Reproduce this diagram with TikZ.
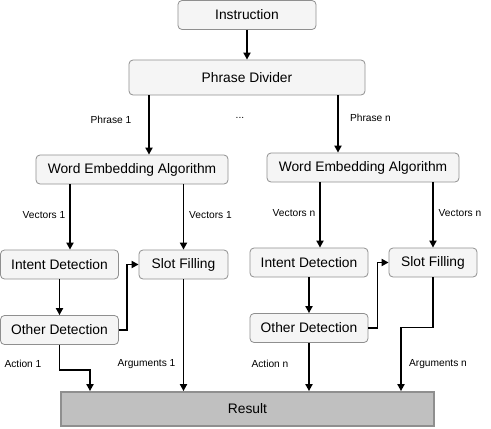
\documentclass[tikz,border=0pt]{standalone}
\usepackage{fontspec}
\setmainfont{Liberation Sans}
\usetikzlibrary{arrows.meta}
\definecolor{boxfill}{HTML}{F5F5F5}
\definecolor{boxline}{HTML}{8F8F8F}
\definecolor{resfill}{HTML}{C0C0C0}

\begin{document}
\begin{tikzpicture}[x=10pt, y=-10pt,
		block/.style={draw=boxline, fill=boxfill, rounded corners=4pt, line width=0.8pt,
			minimum height=29pt, inner sep=0pt, font=\fontsize{13.8}{16}\selectfont},
		lbl/.style={font=\fontsize{10.2}{12}\selectfont, inner sep=0pt},
		arr/.style={-{Triangle[length=7pt,width=7pt]}, line width=1.8pt}]
			\useasboundingbox (0, 0) rectangle (49.1, 42.9);
			% boxes
			\node[block, minimum width=138pt] (instr) at (24.7, 1.5) {Instruction};
			\node[block, minimum width=236pt, minimum height=35pt] (div) at (24.7, 7.75) {Phrase Divider};
			\node[block, minimum width=192pt] (wl) at (13.2, 16.95) {Word Embedding Algorithm};
			\node[block, minimum width=192pt] (wr) at (36.3, 16.75) {Word Embedding Algorithm};
			\node[block, minimum width=118pt] (il) at (5.95, 26.45) {Intent Detection};
			\node[block, minimum width=89pt] (sl) at (18.35, 26.45) {Slot Filling};
			\node[block, minimum width=118pt] (ir) at (30.9, 26.25) {Intent Detection};
			\node[block, minimum width=88pt] (sr) at (43.3, 26.25) {Slot Filling};
			\node[block, minimum width=118pt] (ol) at (5.95, 33.0) {Other Detection};
			\node[block, minimum width=118pt] (or) at (30.9, 32.8) {Other Detection};
			\node[block, draw=boxline, fill=resfill, rounded corners=0pt, line width=1.8pt,
				minimum width=373pt, minimum height=34pt] (res) at (24.75, 40.9) {Result};
			% columns of the arrows
			\coordinate (p1) at (14.9, 0);
			\coordinate (pn) at (33.8, 0);
			\coordinate (v1) at (7.0, 0);
			\coordinate (vn) at (32.0, 0);
			\coordinate (a1) at (9.0, 0);
			\coordinate (an) at (40.1, 0);
			% labels
			\node[lbl] (phr1) at (11.1, 12.0) {Phrase 1};
			\node[lbl] (dots) at (24.0, 11.8) {...};
			\node[lbl] (phrn) at (37.05, 11.8) {Phrase n};
			\node[lbl] (vec1a) at (4.4, 21.5) {Vectors 1};
			\node[lbl] (vec1b) at (21.05, 21.5) {Vectors 1};
			\node[lbl] (vecna) at (29.4, 21.3) {Vectors n};
			\node[lbl] (vecnb) at (46.0, 21.3) {Vectors n};
			\node[lbl] (act1) at (2.3, 36.4) {Action 1};
			\node[lbl] (arg1) at (14.65, 36.4) {Arguments 1};
			\node[lbl] (actn) at (27.0, 36.4) {Action n};
			\node[lbl] (argn) at (43.8, 36.4) {Arguments n};
			% arrows
			\draw[arr] (instr) -- (div);
			\draw[arr] (div.south -| p1) -- (wl.north -| p1);
			\draw[arr] (div.south -| pn) -- (wr.north -| pn);
			\draw[arr] (wl.south -| v1) -- (il.north -| v1);
			\draw[arr] (wl.south -| sl) -- (sl);
			\draw[arr] (wr.south -| vn) -- (ir.north -| vn);
			\draw[arr] (wr.south -| sr) -- (sr);
			\draw[arr] (il) -- (ol);
			\draw[arr] (ir) -- (or);
			\draw[arr] (ol.east) -- ++(0.8, 0) |- (sl.west);
			\draw[arr] (or.east) -- ++(0.9, 0) |- (sr.west);
			\draw[arr] (ol.south) -- ++(0, 2.5) -| (res.north -| a1);
			\draw[arr] (sl) -- (res.north -| sl);
			\draw[arr] (or) -- (res.north -| or);
			\draw[arr] (sr.south) -- ++(0, 5.0) -| (res.north -| an);
		\end{tikzpicture}
\end{document}
